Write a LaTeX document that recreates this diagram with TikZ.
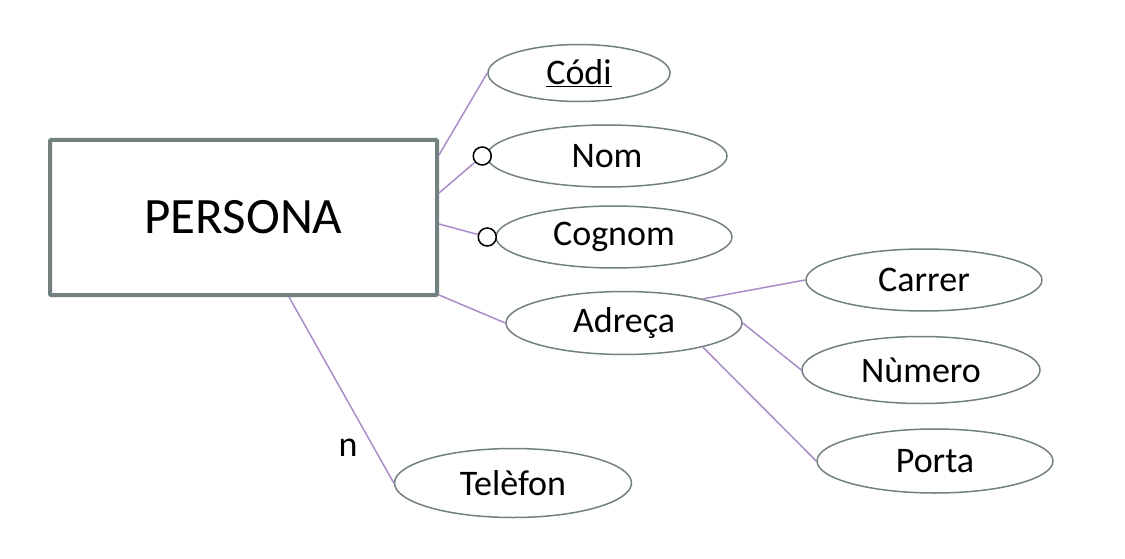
\documentclass[tikz,border=0pt]{standalone}
\usepackage{fontspec}
\setmainfont{Carlito}
\usetikzlibrary{shapes.geometric}
\definecolor{boxgray}{RGB}{115,128,128}
\definecolor{linkpurple}{RGB}{170,140,200}

\begin{document}
\begin{tikzpicture}[x=1pt, y=-1pt,
    entity/.style = {draw=boxgray, line width=4pt, rounded corners=1pt, minimum width=387pt, minimum height=155pt, font=\fontsize{51}{56}\selectfont},
    attr/.style = {draw=boxgray, line width=1.5pt, ellipse, inner sep=0pt, font=\fontsize{36}{40}\selectfont},
    opt/.style = {draw, circle, line width=1.5pt, fill=white, minimum size=18pt, inner sep=0pt},
    link/.style = {draw=linkpurple, line width=1.5pt}]
    \useasboundingbox (0,0) rectangle (1125,559);
    \node[entity] (persona) at (243.5,217.5) {PERSONA};
    \node[attr, minimum width=182pt, minimum height=57pt] (codi) at (579,73) {\underline{Códi}};
    \node[attr, minimum width=240pt, minimum height=62pt] (nom) at (607,156) {Nom};
    \node[attr, minimum width=236pt, minimum height=62pt] (cognom) at (614,237) {Cognom};
    \node[attr, minimum width=236pt, minimum height=63pt] (adreca) at (624,323) {Adreça};
    \node[attr, minimum width=236pt, minimum height=62pt] (carrer) at (924,280) {Carrer};
    \node[attr, minimum width=238pt, minimum height=67pt] (numero) at (921,370) {Nùmero};
    \node[attr, minimum width=236pt, minimum height=64pt] (porta) at (935,461) {Porta};
    \node[attr, minimum width=237pt, minimum height=69pt] (telefon) at (513,483) {Telèfon};
    \node[opt] (nomopt) at ([xshift=-4pt]nom.west) {};
    \node[opt] (cognomopt) at ([xshift=-8pt]cognom.west) {};
    \node[font=\fontsize{36}{40}\selectfont] (card) at (348,448) {n};
    \draw[link] ([yshift=-17pt]persona.north east) -- (codi.west);
    \draw[link] ([yshift=-55pt]persona.north east) -- (nomopt);
    \draw[link] ([yshift=-86pt]persona.north east) -- (cognomopt);
    \draw[link] ([yshift=2pt]persona.south east) -- (adreca.west);
    \draw[link] ([xshift=45.5pt]persona.south) -- (telefon.west);
    \draw[link] (adreca.17) -- (carrer.west);
    \draw[link] (adreca.east) -- (numero.west);
    \draw[link] (adreca.-17) -- (porta.west);
\end{tikzpicture}
\end{document}
